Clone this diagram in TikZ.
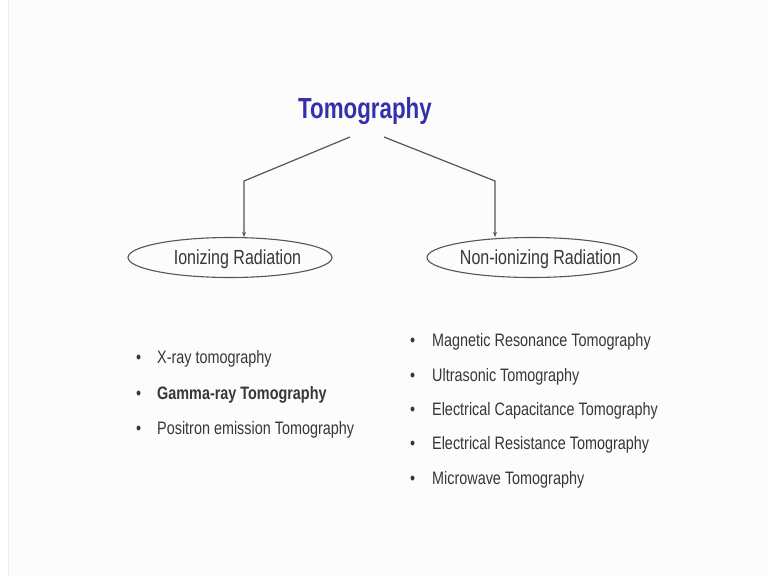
\documentclass[tikz,border=0pt]{standalone}
\usepackage{fontspec}
\setmainfont{Liberation Sans}
\newfontfamily\slidefont[FakeStretch=0.77]{Liberation Sans}
\newfontfamily\catfont[FakeStretch=0.785]{Liberation Sans}
\newfontfamily\itemfont[FakeStretch=0.80]{Liberation Sans}
\usetikzlibrary{shapes.geometric,arrows.meta}
\definecolor{titleblue}{RGB}{52,48,172}
\definecolor{txtgray}{RGB}{55,55,55}
\definecolor{linegray}{RGB}{85,85,85}
\definecolor{bggray}{RGB}{252,252,252}
\tikzset{
  titletext/.style={font=\slidefont\bfseries\fontsize{29}{32}\selectfont, text=titleblue, inner sep=0pt},
  catbox/.style={ellipse, draw=linegray, line width=1.1pt, inner sep=0pt, minimum height=40pt},
  cattext/.style={inner sep=0pt, font=\catfont\fontsize{20.4}{24}\selectfont, text=txtgray},
  connector/.style={draw=linegray, line width=1.2pt, -{Stealth[length=5pt,width=4pt]}},
  item/.style={anchor=west, inner sep=0pt, font=\itemfont\fontsize{18}{21}\selectfont, text=txtgray},
}
\newcommand{\bul}{\makebox[21pt][l]{•}}
\newcommand{\bulr}{\makebox[22pt][l]{•}}
\begin{document}
\begin{tikzpicture}[x=1pt,y=-1pt]
\useasboundingbox (0,0) rectangle (768,576);
\fill[white] (0,0) rectangle (768,576);
\fill[bggray] (8,0) rectangle (768,576);
\draw[black!8, line width=0.8pt] (8,0) -- (8,576);

\node[titletext] (title) at (365,111) {Tomography};

\node[catbox, minimum width=204pt] (ion) at (230,257.5) {};
\node[cattext] (iont) at ([xshift=7.5pt,yshift=-1.5pt]ion.center) {Ionizing Radiation};
\node[catbox, minimum width=210pt] (non) at (532,257.5) {};
\node[cattext] (nont) at ([xshift=8.5pt,yshift=-1.5pt]non.center) {Non-ionizing Radiation};

\coordinate (ls) at (350,137);
\coordinate (lb) at (244,181);
\coordinate (rs) at (384,137);
\coordinate (rb) at (495,181);

\draw[connector] (ls) -- (lb) -- (lb |- ion.north);
\draw[connector] (rs) -- (rb) -- (rb |- non.north);

\node[item] (i1) at (136,359) {\bul X-ray tomography};
\node[item] (i2) at (136,395) {\bul\bfseries Gamma-ray Tomography};
\node[item] (i3) at (136,430) {\bul Positron emission Tomography};

\node[item] (n1) at (410,342) {\bulr Magnetic Resonance Tomography};
\node[item] (n2) at (410,377) {\bulr Ultrasonic Tomography};
\node[item] (n3) at (410,411) {\bulr Electrical Capacitance Tomography};
\node[item] (n4) at (410,445) {\bulr Electrical Resistance Tomography};
\node[item] (n5) at (410,480) {\bulr Microwave Tomography};
\end{tikzpicture}
\end{document}
